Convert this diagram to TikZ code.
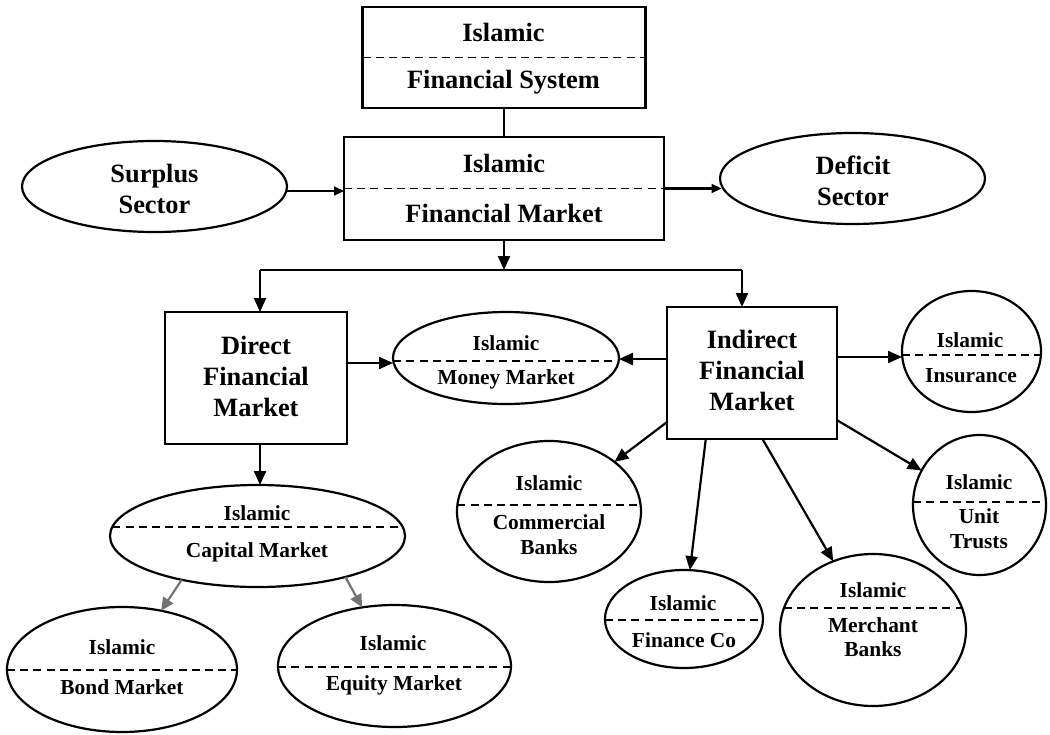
\documentclass[tikz,border=0pt]{standalone}
\usepackage{fontspec}
\setmainfont{Liberation Serif}
\usetikzlibrary{shapes.geometric,arrows.meta,calc}
\newcommand\divline[3]{\draw[divider] ($(#1.center)+(-#3,#2)$) -- ($(#1.center)+(#3,#2)$);}
\begin{document}
\begin{tikzpicture}[x=0.5pt,y=-0.5pt,
  line width=1.1pt,
  box/.style={draw, rectangle, inner sep=0pt, outer sep=0pt},
  oval/.style={draw, ellipse, inner sep=0pt, outer sep=0pt},
  big/.style={font=\fontsize{13.2}{15.5}\selectfont\bfseries, align=center, inner sep=0pt},
  small/.style={font=\fontsize{10.7}{12.3}\selectfont\bfseries, align=center, inner sep=0pt},
  divider/.style={dash pattern=on 4pt off 2.6pt, line width=0.9pt},
  arr/.style={-{Triangle[length=7pt,width=6pt]}},
  sarr/.style={-{Triangle[length=5pt,width=4.5pt]}},
  garr/.style={black!55, -{Triangle[length=6.5pt,width=6pt]}}
]
\fill[white] (0,0) rectangle (1050,734);
\useasboundingbox (0,0) rectangle (1050,734);

% boxes
\node[box, minimum width=141.5pt, minimum height=50.5pt] (fsys) at (504,57.5) {};
\node[box, minimum width=160pt, minimum height=51.5pt] (fmkt) at (504,188.5) {};
\node[box, minimum width=91pt, minimum height=66pt] (direct) at (256,378) {};
\node[box, minimum width=85pt, minimum height=66pt] (indirect) at (752,373) {};

% ellipses
\node[oval, minimum width=132.5pt, minimum height=45.5pt] (surplus) at (154.5,186.5) {};
\node[oval, minimum width=132.5pt, minimum height=45.5pt] (deficit) at (852.5,178.5) {};
\node[oval, minimum width=113pt, minimum height=46pt] (money) at (506,358) {};
\node[oval, minimum width=69.5pt, minimum height=60.5pt] (insurance) at (971.5,351.5) {};
\node[oval, minimum width=66.5pt, minimum height=70pt] (unit) at (979.5,505) {};
\node[oval, minimum width=92pt, minimum height=70.5pt] (commercial) at (549,511.5) {};
\node[oval, minimum width=79pt, minimum height=49pt] (financeco) at (684,619) {};
\node[oval, minimum width=93pt, minimum height=76pt] (merchant) at (873,630) {};
\node[oval, minimum width=147.5pt, minimum height=51pt] (capital) at (257.5,536) {};
\node[oval, minimum width=115pt, minimum height=62.5pt] (bond) at (122,669.5) {};
\node[oval, minimum width=116.5pt, minimum height=61pt] (equity) at (394.5,666) {};

% dividers
\draw[divider] (fsys.west) -- (fsys.east);
\draw[divider] (fmkt.west) -- (fmkt.east);
\divline{money}{3}{112.8}
\divline{insurance}{3.5}{69.4}
\divline{unit}{-3}{66.4}
\divline{commercial}{-6.5}{91.6}
\divline{financeco}{1}{79}
\divline{merchant}{-22}{89}
\divline{capital}{-9}{145.2}
\divline{bond}{0.5}{115}
\divline{equity}{1}{116.4}

% texts
\node[big] (fsys-a) at (503.5,32) {Islamic};
\node[big] (fsys-b) at (503.5,82) {Financial System};
\node[big] (fmkt-a) at (504,163) {Islamic};
\node[big] (fmkt-b) at (504,213) {Financial Market};
\node[big] (surplus-t) at (154.5,189) {Surplus\\Sector};
\node[big] (deficit-t) at (853,181) {Deficit\\Sector};
\node[big] (direct-t) at (256,376) {Direct\\Financial\\Market};
\node[big] (indirect-t) at (752,370.5) {Indirect\\Financial\\Market};
\node[small] (money-a) at (506,343) {Islamic};
\node[small] (money-b) at (506,379) {Money Market};
\node[small] (insurance-a) at (970,340) {Islamic};
\node[small] (insurance-b) at (971,376) {Insurance};
\node[small] (unit-a) at (979,482) {Islamic};
\node[small] (unit-b) at (979,528.5) {Unit\\Trusts};
\node[small] (commercial-a) at (549,483) {Islamic};
\node[small] (commercial-b) at (549,534.5) {Commercial\\Banks};
\node[small] (financeco-a) at (683,603) {Islamic};
\node[small] (financeco-b) at (684,640) {Finance Co};
\node[small] (merchant-a) at (873,590) {Islamic};
\node[small] (merchant-b) at (873,637) {Merchant\\Banks};
\node[small] (capital-a) at (257,513) {Islamic};
\node[small] (capital-b) at (257,552) {Capital Market};
\node[small] (bond-a) at (122,647) {Islamic};
\node[small] (bond-b) at (122,687) {Bond Market};
\node[small] (equity-a) at (393,643) {Islamic};
\node[small] (equity-b) at (394,685) {Equity Market};

% connectors
\draw (fsys.south) -- (fsys.south |- fmkt.north);
\coordinate (jl) at (260,270);
\coordinate (jr) at (742,270);
\coordinate (jm) at (fmkt.south |- jl);
\draw[arr] (fmkt.south) -- (jm);
\draw (jl) -- (jr);
\draw[arr] (jl) -- (jl |- direct.north);
\draw[arr] (jr) -- (jr |- indirect.north);
\draw[arr] (jl |- direct.south) -- (jl |- capital.north);

\coordinate (s1) at ($(surplus.east)+(0,4.5)$);
\draw[sarr] (s1) -- (s1 -| fmkt.west);
\coordinate (df) at ($(fmkt.east -| deficit.west)+(1.5,0)$);
\draw[sarr] (fmkt.east) -- (df);
\coordinate (d1) at ($(direct.east)+(0,-15)$);
\draw[arr] (d1) -- (d1 -| money.west);
\coordinate (i1) at ($(indirect.west)+(0,-14)$);
\draw[arr] (i1) -- (i1 -| money.east);
\coordinate (i2) at ($(indirect.east)+(0,-16)$);
\draw[arr] (i2) -- (i2 -| insurance.west);
\draw[arr] (indirect.210) -- (commercial);
\draw[arr] (indirect.235.1) -- (financeco);
\draw[arr] (indirect.279.5) -- (merchant);
\draw[arr] (indirect.331) -- (unit);
\draw[garr] (capital.210) -- (bond);
\draw[garr] (capital.335) -- (equity);
\end{tikzpicture}
\end{document}
